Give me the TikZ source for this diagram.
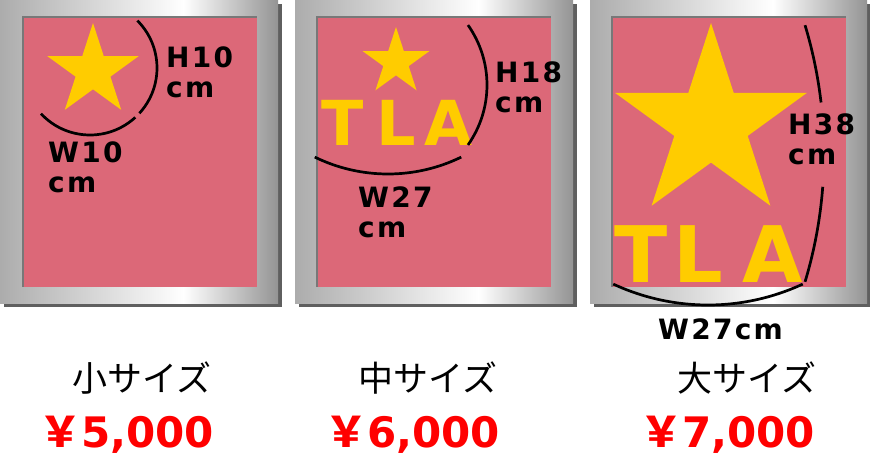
\documentclass[tikz,border=0pt]{standalone}
\usepackage{fontspec}
\usetikzlibrary{shapes.geometric}
\setmainfont{DejaVu Sans}
\newfontfamily\jpfont{Noto Sans CJK JP}
\newfontfamily\dimfont[LetterSpace=8]{DejaVu Sans}

\definecolor{boardpink}{RGB}{220,104,120}
\definecolor{staryellow}{RGB}{255,204,0}
\definecolor{metalL}{RGB}{172,172,172}
\definecolor{metalR}{RGB}{148,148,148}
\definecolor{shadowgray}{RGB}{95,95,95}
\definecolor{bevelgray}{RGB}{120,120,120}
\definecolor{pricered}{RGB}{255,0,0}

\pgfdeclarehorizontalshading{metal}{100bp}{color(0bp)=(metalL); color(25bp)=(metalL); color(58bp)=(white); color(75bp)=(metalR); color(100bp)=(metalR)}

\tikzset{
  frameshadow/.style = {fill=shadowgray},
  metalframe/.style = {shading=metal},
  board/.style = {fill=boardpink},
  bevel/.style = {draw=bevelgray, line width=1.5pt},
  bigstar/.style = {star, star points=5, star point ratio=2.618, inner sep=0pt, fill=staryellow},
  logo/.style = {text=staryellow, inner sep=0pt, anchor=base, font=\bfseries\fontsize{#1}{#1}\selectfont},
  dimarc/.style = {line width=2.7pt},
  dimlabel/.style = {inner sep=0pt, anchor=north west, align=left, font=\dimfont\bfseries\fontsize{28}{30}\selectfont},
  sizename/.style = {inner sep=0pt, font=\jpfont\fontsize{35}{35}\selectfont},
  price/.style = {inner sep=0pt, anchor=base west, text=pricered, font=\bfseries\fontsize{42}{42}\selectfont}
}

\begin{document}
\begin{tikzpicture}[x=1pt, y=-1pt]

  \fill[white] (0,0) rectangle (870,458);
  \useasboundingbox (0,0) rectangle (870,458);

  %% Three boards, small to large

  % Frames
  \fill[frameshadow] (4,4) rectangle (282,307);
  \shade[metalframe] (0,0) rectangle (278,303);
  \fill[board] (23,17) rectangle (257,287);
  \draw[bevel] (23,287) |- (257,17);

  \fill[frameshadow] (299,4) rectangle (577,307);
  \shade[metalframe] (295,0) rectangle (573,303);
  \fill[board] (317,17) rectangle (551,287);
  \draw[bevel] (317,287) |- (551,17);

  \fill[frameshadow] (594,4) rectangle (871,307);
  \shade[metalframe] (590,0) rectangle (867,303);
  \fill[board] (612,17) rectangle (846,287);
  \draw[bevel] (612,287) |- (846,17);

  % Stars
  \node[bigstar, minimum size=96pt] (starS) at (93,71) {};
  \node[bigstar, minimum size=70pt] (starM) at (396,62) {};
  \node[bigstar, minimum size=202pt] (starL) at (711,124) {};

  % Logo letters
  \node[logo=62] (tM) at (343,145) {T};
  \node[logo=62] (lM) at (396,145) {L};
  \node[logo=62] (aM) at (448,145) {A};
  \node[logo=78] (tL) at (641,282) {T};
  \node[logo=78] (lL) at (698,282) {L};
  \node[logo=78] (aL) at (773,282) {A};

  % Measuring arcs
  \draw[dimarc] ([shift={(45:67pt)}]90,68) arc[start angle=45, end angle=-42.5, radius=67pt];
  \draw[dimarc] ([shift={(-47.5:67pt)}]90,68) arc[start angle=-47.5, end angle=-137, radius=67pt];
  \draw[dimarc] ([shift={(35.2:104pt)}]383,85) arc[start angle=35.2, end angle=-35.2, radius=104pt];
  \draw[dimarc] ([shift={(-116:167pt)}]388,7) arc[start angle=-116, end angle=-64, radius=167pt];
  \draw[dimarc] ([shift={(16.8:444pt)}]380,153.5) arc[start angle=16.8, end angle=6.6, radius=444pt];
  \draw[dimarc] ([shift={(-4.3:444pt)}]380,153.5) arc[start angle=-4.3, end angle=-16.8, radius=444pt];
  \draw[dimarc] ([shift={(-114.9:225pt)}]708,80) arc[start angle=-114.9, end angle=-65.1, radius=225pt];

  % Sizes
  \node[dimlabel] (hS) at (166,47) {H10\\cm};
  \node[dimlabel] (wS) at (48,142) {W10\\cm};
  \node[dimlabel] (hM) at (495,62) {H18\\cm};
  \node[dimlabel] (wM) at (358,187) {W27\\cm};
  \node[dimlabel] (hL) at (788,114) {H38\\cm};
  \node[dimlabel] (wL) at (658,319) {W27cm};

  % Names and prices
  \node[sizename] (nameS) at (142,378) {小サイズ};
  \node[sizename] (nameM) at (428,378) {中サイズ};
  \node[sizename] (nameL) at (747,378) {大サイズ};
  \node[price] (priceS) at (39,447) {{\jpfont ￥}5,000};
  \node[price] (priceM) at (325,447) {{\jpfont ￥}6,000};
  \node[price] (priceL) at (640,447) {{\jpfont ￥}7,000};

\end{tikzpicture}
\end{document}
